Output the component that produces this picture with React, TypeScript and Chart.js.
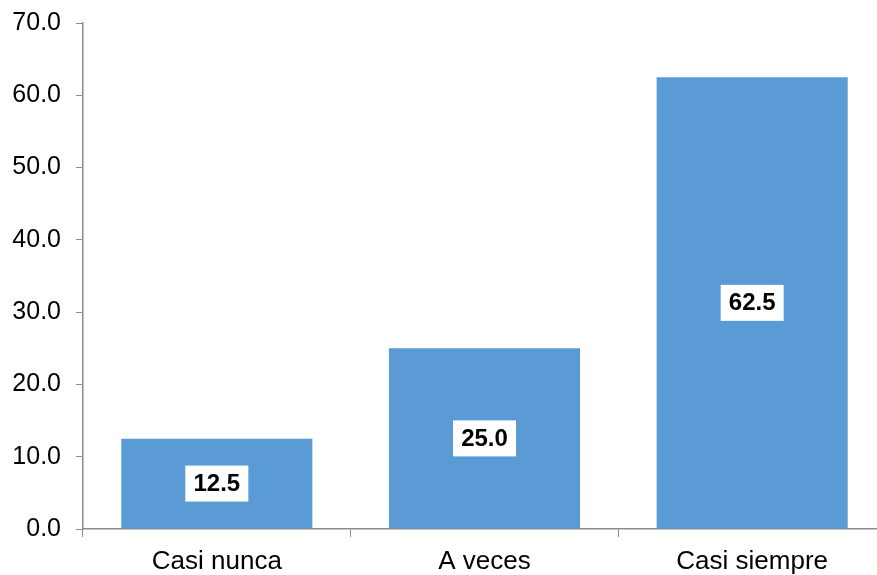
import React, { useEffect, useRef } from "react";
import { Chart, registerables } from "chart.js";

Chart.register(...registerables);

const categories = ["Casi nunca", "A veces", "Casi siempre"];
const values = [12.5, 25.0, 62.5];
const yTicks = [0, 10, 20, 30, 40, 50, 60, 70];

const FONT = "'Liberation Sans', Arial, sans-serif";
const AXIS_COLOR = "#8c8c8c";

const labelBoxPlugin = {
  id: "labelBox",
  afterDatasetsDraw(chart: any) {
    const ctx = chart.ctx;
    const meta = chart.getDatasetMeta(0);
    const data = chart.data.datasets[0].data as number[];
    ctx.save();
    ctx.font = `bold 24px ${FONT}`;
    ctx.textAlign = "center";
    ctx.textBaseline = "middle";
    meta.data.forEach((bar: any, i: number) => {
      const x = bar.x;
      const y = (bar.y + bar.base) / 2;
      const w = 63;
      const h = 36;
      ctx.fillStyle = "#ffffff";
      ctx.fillRect(x - w / 2, y - h / 2, w, h);
      ctx.fillStyle = "#000000";
      ctx.fillText(data[i].toFixed(1), x, y + 1);
    });
    ctx.restore();
  },
};

export default function App() {
  const ref = useRef<HTMLCanvasElement | null>(null);
  useEffect(() => {
    if (!ref.current) return;
    const chart = new Chart(ref.current, {
      type: "bar",
      data: {
        labels: categories,
        datasets: [
          {
            data: values,
            backgroundColor: "#5B9BD5",
            borderWidth: 0,
            barPercentage: 0.714,
            categoryPercentage: 1,
          },
        ],
      },
      plugins: [labelBoxPlugin],
      options: {
        responsive: false,
        animation: false,
        devicePixelRatio: 1,
        layout: { padding: { top: 0, right: 14, left: 0, bottom: 0 } },
        plugins: { legend: { display: false }, tooltip: { enabled: false } },
        scales: {
          x: {
            offset: true,
            grid: {
              offset: true,
              drawOnChartArea: false,
              drawTicks: true,
              tickLength: 8,
              color: AXIS_COLOR,
            },
            border: { color: AXIS_COLOR, width: 1.5 },
            ticks: {
              color: "#000000",
              font: { family: FONT, size: 26 },
              padding: 9,
              maxRotation: 0,
            },
            afterFit(scale: any) {
              scale.height = 46;
            },
          },
          y: {
            min: 0,
            max: 70,
            afterBuildTicks(scale: any) {
              scale.ticks = yTicks.map((v) => ({ value: v }));
            },
            grid: {
              drawOnChartArea: false,
              drawTicks: true,
              tickLength: 7,
              color: AXIS_COLOR,
            },
            border: { color: AXIS_COLOR, width: 1.5 },
            ticks: {
              color: "#000000",
              font: { family: FONT, size: 25 },
              padding: 15,
              callback: (v: any) => Number(v).toFixed(1),
            },
            afterFit(scale: any) {
              scale.width = 83;
            },
          },
        },
      },
    });
    return () => chart.destroy();
  }, []);
  return (
    <div
      style={{
        position: "fixed",
        left: 0,
        top: 0,
        width: 877,
        height: 575,
        overflow: "hidden",
        background: "#ffffff",
      }}
    >
      <canvas
        ref={ref}
        width={900}
        height={582}
        style={{ display: "block", position: "absolute", left: 0, top: -7 }}
      />
    </div>
  );
}
